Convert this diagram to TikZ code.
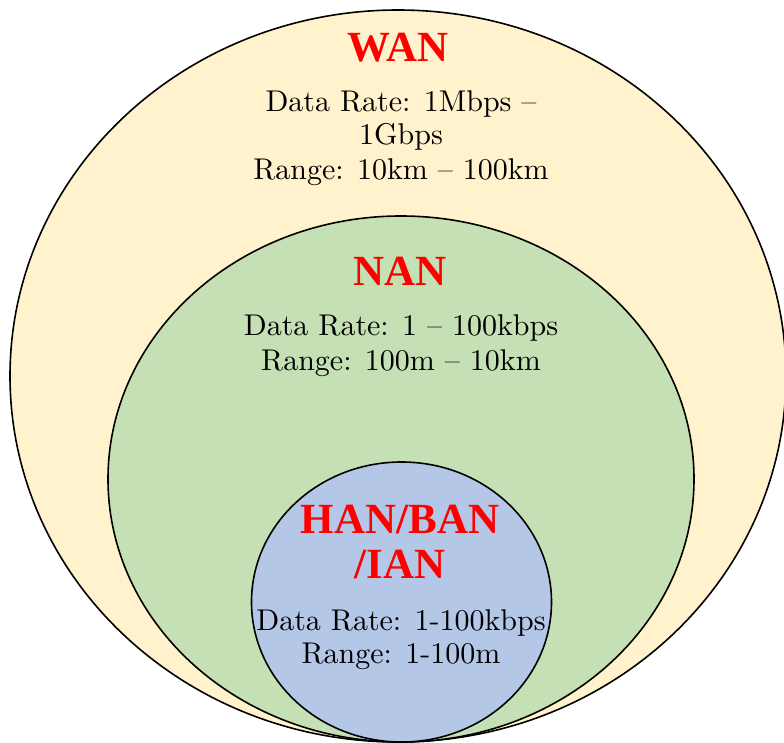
\documentclass[tikz,border=0pt]{standalone}
\usepackage{fontspec}
\newfontfamily\titlefont{Liberation Serif}
\newfontfamily\bodyfont{lmroman10-regular}[Extension=.otf,Ligatures=TeX]
\definecolor{wanfill}{HTML}{FFF2CC}
\definecolor{nanfill}{HTML}{C5E0B4}
\definecolor{hanfill}{HTML}{B4C7E7}
\definecolor{titlered}{HTML}{FF0000}
\begin{document}
\begin{tikzpicture}[x=1pt,y=-1pt,
  zone/.style={draw=black,line width=1.6pt},
  ttl/.style={font=\titlefont\bfseries\fontsize{43}{45}\selectfont,text=titlered,inner sep=0pt,anchor=base},
  body/.style={font=\bodyfont\fontsize{30}{34.5}\selectfont,inner sep=0pt,anchor=base}]
\useasboundingbox (0,0) rectangle (784,743);
\begin{scope}
\clip (0,0) rectangle (784,743);
\draw[zone,fill=wanfill] (398,376) ellipse [x radius=388,y radius=366];
\draw[zone,fill=nanfill] (401,479) ellipse [x radius=293,y radius=263];
\draw[zone,fill=hanfill] (401.5,602) ellipse [x radius=150,y radius=140];
\end{scope}
\node[ttl] (wan) at (398,62) {WAN};
\node[body] (wanrate) at (401,112) {Data Rate: 1Mbps –};
\node[body] (wanrate2) at (401,145) {1Gbps};
\node[body] (wanrange) at (401,180) {Range: 10km – 100km};
\node[ttl] (nan) at (400,285) {NAN};
\node[body] (nanrate) at (401,335) {Data Rate: 1 – 100kbps};
\node[body] (nanrange) at (401,370) {Range: 100m – 10km};
\node[ttl] (han) at (400,533) {HAN/BAN};
\node[ttl] (han2) at (400,578) {/IAN};
\node[body] (hanrate) at (401,630) {Data Rate: 1-100kbps};
\node[body] (hanrange) at (401,663) {Range: 1-100m};
\end{tikzpicture}
\end{document}
